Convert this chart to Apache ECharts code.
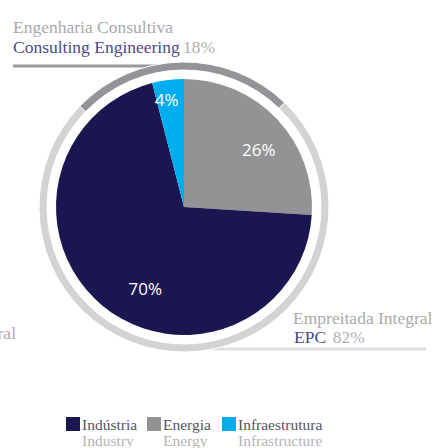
<!DOCTYPE html>
<html>
<head>
<meta charset="utf-8">
<script src="https://cdn.jsdelivr.net/npm/echarts@6/dist/echarts.min.js"></script>
<style>
  html, body { margin: 0; padding: 0; background: #fff; overflow: hidden; }
  #chart { width: 442px; height: 448px; }
</style>
</head>
<body>
<div id="chart"></div>
<script>
// segment names (pt / en), clockwise from 12 o'clock
const sectorsPt = ['Energia', 'Indústria', 'Infraestrutura']
const sectorsEn = ['Energy', 'Industry', 'Infrastructure']
const sectorShare = [26, 70, 4]
const sectorColors = ['#939396', '#1c1650', '#00adef']
// legend order
const legendOrder = ['Indústria', 'Energia', 'Infraestrutura']
// outer ring: consulting engineering / EPC
const ringNames = ['Consulting Engineering', 'EPC']
const ringShare = [25, 75]

const serif = '"Liberation Serif", "DejaVu Serif", serif'
const sans = '"Open Sans", "Liberation Sans", sans-serif'

// label nudges so the percentages sit where the original has them
const labelOffsets = [[26, -12], [4, 30], [-9, -41]]

let myChart = echarts.init(document.getElementById('chart'), null, { renderer: 'svg', width: 442, height: 448 })

let legendLeft = [61, 142, 217]
let legends = legendOrder.map((name, i) => ({
  data: [name],
  left: legendLeft[i],
  top: 411,
  itemWidth: 14,
  itemHeight: 14,
  itemGap: 4,
  icon: 'rect',
  selectedMode: false,
  formatter: n => {
    let k = sectorsPt.indexOf(n)
    return '{a|' + n + '}\n{b|' + sectorsEn[k] + '}'
  },
  textStyle: {
    padding: [16, 0, 0, -3],
    rich: {
      a: { fontFamily: serif, fontSize: 15.5, color: '#55555c', lineHeight: 16 },
      b: { fontFamily: serif, fontSize: 15.5, color: '#b4b4b8', lineHeight: 16 }
    }
  }
}))

let option = {
  animation: false,
  legend: legends,
  graphic: [
    { type: 'text', x: 13, y: 27, style: { text: 'Engenharia Consultiva', font: '17.5px ' + serif, fill: '#a9a9ac', verticalAlign: 'middle' } },
    {
      type: 'text', x: 13, y: 47,
      style: {
        text: '{p|Consulting Engineering} {g|18%}',
        verticalAlign: 'middle',
        rich: {
          p: { fontFamily: serif, fontSize: 17.5, fill: '#4b4a84' },
          g: { fontFamily: serif, fontSize: 17.5, fill: '#b0b0b4' }
        }
      }
    },
    { type: 'line', shape: { x1: 13, y1: 66, x2: 165, y2: 66 }, style: { stroke: '#9a9a9e', lineWidth: 3 } },
    { type: 'text', x: 293, y: 318, style: { text: 'Empreitada Integral', font: '17.5px ' + serif, fill: '#a9a9ac', verticalAlign: 'middle' } },
    {
      type: 'text', x: 294, y: 337,
      style: {
        text: '{p|EPC}  {g|82%}',
        verticalAlign: 'middle',
        rich: {
          p: { fontFamily: serif, fontSize: 17.5, fill: '#4b4a84' },
          g: { fontFamily: serif, fontSize: 17.5, fill: '#b0b0b4' }
        }
      }
    },
    { type: 'line', shape: { x1: 213, y1: 349, x2: 426, y2: 349 }, style: { stroke: '#e0e0e0', lineWidth: 3 } },
    { type: 'text', x: 16, y: 333, style: { text: 'Integral', font: '17.5px ' + serif, fill: '#a9a9ac', align: 'right', verticalAlign: 'middle' } }
  ],
  series: [
    {
      name: 'ring',
      type: 'pie',
      center: [184, 207],
      radius: [137, 145],
      startAngle: 136,
      clockwise: true,
      silent: true,
      label: { show: false },
      labelLine: { show: false },
      itemStyle: { borderColor: '#fff', borderWidth: 1 },
      data: ringNames.map((n, i) => ({
        name: n,
        value: ringShare[i],
        itemStyle: { color: i === 0 ? '#949498' : '#d3d3d5' }
      }))
    },
    {
      name: 'sector',
      type: 'pie',
      center: [184, 207],
      radius: [0, 128],
      startAngle: 90,
      clockwise: true,
      label: {
        show: true,
        position: 'inside',
        formatter: '{c}%',
        color: '#ffffff',
        fontFamily: sans,
        fontSize: 17,
        fontWeight: 500
      },
      labelLine: { show: false },
      data: sectorsPt.map((n, i) => ({
        name: n,
        value: sectorShare[i],
        itemStyle: { color: sectorColors[i] },
        label: { offset: labelOffsets[i] }
      }))
    }
  ]
}
myChart.setOption(option, true)
</script>
</body>
</html>
